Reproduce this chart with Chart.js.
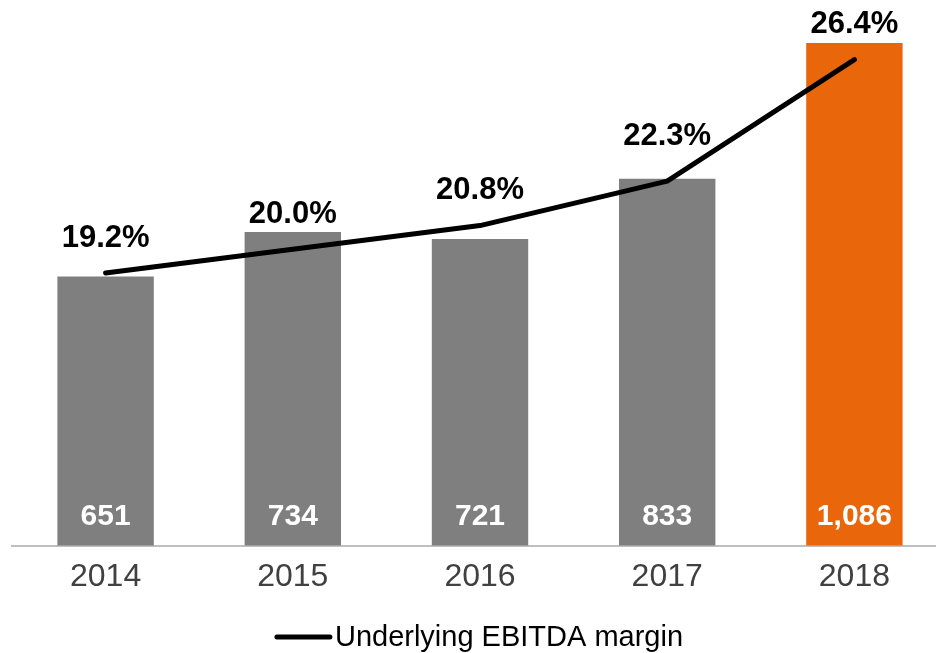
<!DOCTYPE html>
<html>
<head>
<meta charset="utf-8">
<script src="https://cdn.jsdelivr.net/npm/chart.js@4/dist/chart.umd.min.js"></script>
<style>
  html, body { margin: 0; padding: 0; background: #fff; overflow: hidden; }
  #wrap { position: relative; width: 948px; height: 653px; }
</style>
</head>
<body>
<div id="wrap"><canvas id="ebitdaChart"></canvas></div>
<script>
const years = ['2014', '2015', '2016', '2017', '2018'];
const ebitda = [651, 734, 721, 833, 1086];
const margin = [19.2, 20.0, 20.8, 22.3, 26.4];
const highlightYear = '2018';

const FONT = '"Liberation Sans", Arial, sans-serif';
const GREY = '#7f7f7f';
const ORANGE = '#ea660b';

// values written inside the bars and margin labels above the line
const labelPlugin = {
  id: 'labels',
  afterDatasetsDraw(chart) {
    const ctx = chart.ctx;
    const bottom = chart.chartArea.bottom;
    ctx.save();
    ctx.textAlign = 'center';
    ctx.textBaseline = 'middle';

    ctx.font = 'bold 30px ' + FONT;
    ctx.fillStyle = '#fff';
    chart.getDatasetMeta(1).data.forEach((bar, i) => {
      ctx.fillText(ebitda[i].toLocaleString('en-US'), bar.x, bottom - 29);
    });

    ctx.font = 'bold 31px ' + FONT;
    ctx.fillStyle = '#000';
    const pts = chart.getDatasetMeta(0).data;
    pts.forEach((pt, i) => {
      const text = margin[i].toFixed(1) + '%';
      const half = ctx.measureText(text).width / 2;
      let cy = pt.y - 35;
      // lift the label if the next segment climbs into it
      const next = pts[i + 1];
      if (next) {
        const lineY = pt.y + (next.y - pt.y) * half / (next.x - pt.x);
        if (cy + 12 > lineY - 4) cy = lineY - 4 - 12;
      }
      ctx.fillText(text, pt.x, cy);
    });
    ctx.restore();
  }
};

// legend: a short thick line followed by the series name
const legendPlugin = {
  id: 'lineLegend',
  afterDraw(chart) {
    const ctx = chart.ctx;
    const text = 'Underlying EBITDA margin';
    ctx.save();
    ctx.font = '29px ' + FONT;
    const tw = ctx.measureText(text).width;
    const lineW = 53, gap = 5;
    const x0 = chart.width / 2 - (lineW + gap + tw) / 2 + 6;
    const y = 637;
    ctx.strokeStyle = '#000';
    ctx.lineWidth = 5;
    ctx.lineCap = 'round';
    ctx.beginPath();
    ctx.moveTo(x0, y);
    ctx.lineTo(x0 + lineW, y);
    ctx.stroke();
    ctx.fillStyle = '#000';
    ctx.textBaseline = 'middle';
    ctx.fillText(text, x0 + lineW + gap, y + 1);
    ctx.restore();
  }
};

new Chart(document.getElementById('ebitdaChart'), {
  type: 'bar',
  data: {
    labels: years,
    datasets: [
      {
        type: 'line',
        label: 'Underlying EBITDA margin',
        data: margin,
        yAxisID: 'y2',
        borderColor: '#000',
        borderWidth: 5,
        borderCapStyle: 'round',
        borderJoinStyle: 'round',
        pointRadius: 0,
        tension: 0,
        fill: false,
        order: 0
      },
      {
        label: 'Underlying EBITDA',
        data: ebitda,
        yAxisID: 'y',
        backgroundColor: years.map(y => y === highlightYear ? ORANGE : GREY),
        barPercentage: 0.515,
        categoryPercentage: 1,
        order: 1
      }
    ]
  },
  options: {
    responsive: true,
    maintainAspectRatio: false,
    animation: false,
    layout: { padding: { left: 12, right: 0, top: 30, bottom: 45 } },
    plugins: {
      legend: { display: false },
      tooltip: { enabled: false }
    },
    scales: {
      x: {
        grid: { display: false, drawTicks: false },
        border: { display: true, color: '#bfbfbf', width: 2 },
        ticks: { color: '#404040', padding: 12, font: { family: FONT, size: 32 } }
      },
      y: { display: false, min: 150, max: 1110 },
      y2: { display: false, min: 10, max: 27.4 }
    }
  },
  plugins: [labelPlugin, legendPlugin]
});
</script>
</body>
</html>
